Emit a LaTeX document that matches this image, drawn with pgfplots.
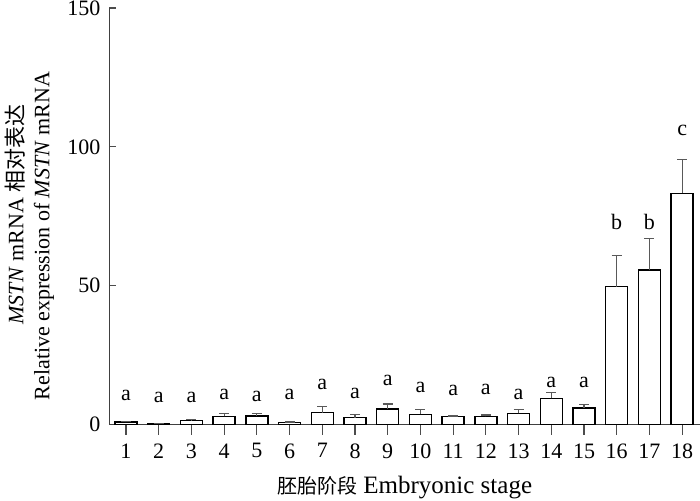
\documentclass[border=0pt]{standalone}
\usepackage{fontspec}
\setmainfont{Liberation Serif}
\newfontfamily\cjk{Noto Sans CJK SC}
\usepackage{pgfplots}
\usepackage{pgfplotstable}
\pgfplotsset{compat=1.18}
\pgfplotstableread{
x y err
1 0.9 0.3
2 0.3 0.1
3 1.5 0.3
4 2.9 1.1
5 3.1 0.9
6 0.8 0.1
7 4.3 2.3
8 2.5 1.2
9 5.6 1.8
10 3.7 1.6
11 2.9 0.2
12 2.9 0.5
13 4.0 1.3
14 9.4 2.0
15 6.0 1.1
16 49.6 11.2
17 55.6 11.4
18 83.3 12.2
}\datatab
\begin{document}
\begin{tikzpicture}[font=\fontsize{11}{13}\selectfont]
\begin{axis}[
  scale only axis,
  width=295pt, height=208.25pt,
  xmin=0.496, xmax=18.53,
  ymin=0, ymax=150,
  axis x line*=bottom, axis y line*=left,
  axis line style={-, draw=black!75, line width=0.7pt},
  xtick={1,...,18},
  ytick={0,50,100,150},
  x tick style={draw=black!70, line width=0.6pt},
  y tick style={draw=black!70, line width=0.6pt},
  xtick align=outside, ytick align=inside,
  major tick length=5pt,
  ytick style={/pgfplots/major tick length=3pt},
  /pgf/number format/assume math mode=true,
  tick label style={font=\fontsize{11}{13}\selectfont},
  xticklabel style={yshift=-1pt},
  yticklabel style={xshift=-1pt},
  ybar, bar width=11pt,
  clip=false,
]
\addplot[draw=black, fill=white, line width=0.7pt,
  error bars/.cd, y dir=plus, y explicit,
  error bar style={draw=black!65, line width=0.6pt},
  error mark options={rotate=90, mark size=2.5pt, draw=black!65, line width=0.6pt}]
  table[x=x, y=y, y error=err] {\datatab};
\node at (axis cs:1,10.6) {a};
\node at (axis cs:2,9.6) {a};
\node at (axis cs:3,9.6) {a};
\node at (axis cs:4,11) {a};
\node at (axis cs:5,10) {a};
\node at (axis cs:6,11) {a};
\node at (axis cs:7,14.6) {a};
\node at (axis cs:8,11.2) {a};
\node at (axis cs:9,15.8) {a};
\node at (axis cs:10,13.3) {a};
\node at (axis cs:11,12.2) {a};
\node at (axis cs:12,12.7) {a};
\node at (axis cs:13,10.9) {a};
\node at (axis cs:14,15) {a};
\node at (axis cs:15,15) {a};
\node at (axis cs:16,73) {b};
\node at (axis cs:17,73) {b};
\node at (axis cs:18,106) {c};
\end{axis}
\node[rotate=90] at (-47.25pt,105pt) {\textit{MSTN} mRNA {\cjk 相对表达}};
\node[rotate=90] at (-32.75pt,94.25pt) {Relative expression of \textit{MSTN} mRNA};
\node at (147.75pt,-31.75pt) {{\cjk\fontsize{10}{12}\selectfont 胚胎阶段} {\fontsize{12.5}{14}\selectfont Embryonic stage}};
\pgfresetboundingbox
\path[use as bounding box] (-54.75pt,-37.75pt) rectangle (295.25pt,212.25pt);
\end{tikzpicture}
\end{document}
